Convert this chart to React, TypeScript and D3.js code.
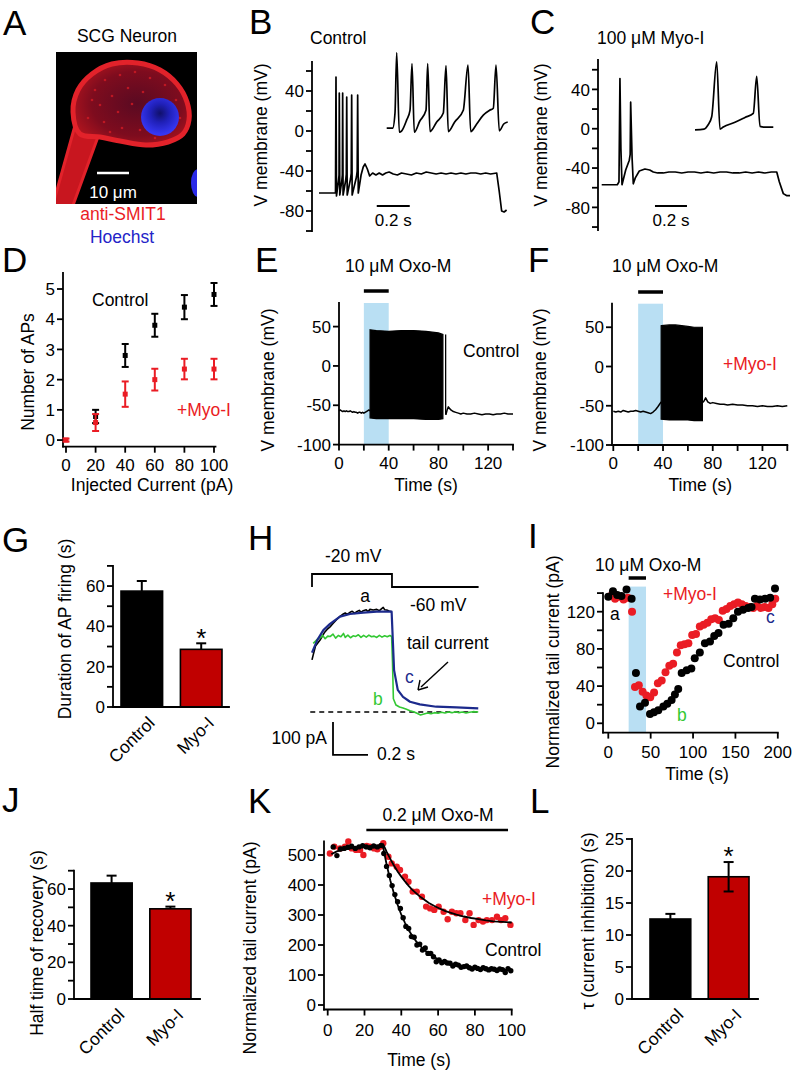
import React from "react";
import * as d3 from "d3";

const FONT = '"Liberation Sans", Arial, Helvetica, sans-serif';
const RED = "#ea1c24";
const BARRED = "#c00000";
const SHADE = "#b9dff3";
const NAVY = "#1c2a8c";
const GREEN = "#33c833";
const HOECHST = "#2424c8";

/* ---------------- Panel B (control firing) ---------------- */
const bTime = [0, 0.1, 0.103, 0.106, 0.118, 0.1215, 0.123, 0.126, 0.138, 0.1415, 0.1434, 0.146, 0.162, 0.1655, 0.168, 0.171, 0.191, 0.1955, 0.198, 0.201, 0.227, 0.2315, 0.2343, 0.238, 0.255, 0.268, 0.279, 0.293, 0.307, 0.325, 0.345, 0.365, 0.385, 0.405, 0.425, 0.45, 0.475, 0.5, 0.53, 0.56, 0.59, 0.62, 0.65, 0.68, 0.71, 0.74, 0.77, 0.8, 0.83, 0.86, 0.89, 0.92, 0.95, 0.98, 1.01, 1.04, 1.077, 1.092, 1.107, 1.122, 1.137];
const bVm = [-62, -62, 54, -65, -50, -44, 38, -64, -50, -44, 38, -64, -49, -43, 34, -64, -48, -42, 36, -64, -46, -40, 36, -62, -44, -36, -33, -38, -45, -42, -44, -42, -44, -42, -41, -43, -44, -42, -43, -44, -42, -43, -41, -42, -43, -42, -43, -42, -43, -42, -43, -42, -42, -43, -42, -43, -42, -60, -80, -81, -79];
const bInsetT = [0, 6, 8.3, 10, 12.6, 15, 20, 23.3, 25.3, 27.6, 33, 39.3, 41, 43.3, 50, 56.6, 59.3, 61.6, 68, 76.6, 81.3, 84, 90, 96.6, 103, 106.6, 109.3, 112.6, 117, 121];
const bInsetV = [-58, -58, -36, 52, -64, -62, -46, -32, 36, -64, -48, -32, 36, -63, -49, -36, 33, -63, -49, -32, 34, -63, -52, -39, -32, -29, 34, -62, -52, -49];
const bScaleBarT = [0.35, 0.55];

/* ---------------- Panel C (Myo-I firing) ---------------- */
const cTime = [0, 0.0975, 0.108, 0.114, 0.12, 0.127, 0.15, 0.1725, 0.178, 0.181, 0.19, 0.1975, 0.21, 0.235, 0.27, 0.3, 0.3225, 0.35, 0.385, 0.42, 0.46, 0.5, 0.54, 0.58, 0.62, 0.66, 0.7, 0.74, 0.78, 0.82, 0.86, 0.9, 0.94, 0.98, 1.02, 1.06, 1.094, 1.11, 1.135, 1.155, 1.177];
const cVm = [-57, -57, -54, 51, -20, -57, -42, -32, -26, 27, -30, -56, -50, -43, -41, -42, -44, -45, -45, -44, -44, -45, -44, -44, -45, -44, -45, -44, -44, -45, -45, -44, -45, -44, -45, -44, -44, -54, -66, -68, -68];
const cInsetT = [0, 9, 13, 16.7, 21.7, 25, 28.3, 40, 50, 58.3, 61.7, 65, 70, 78.3];
const cInsetV = [-59, -58, -52, -40, 40, -58, -55, -48, -41, -35, 19, -54, -55, -55];
const cScaleBarT = [0.333, 0.533];

const vmTicks = [-100, -80, -60, -40, -20, 0, 20, 40, 60];
const vmLabels = [-80, -40, 0, 40];

/* ---------------- Panel D ---------------- */
const dCurrent = [0, 20, 40, 60, 80, 100];
const dCtrlMean = [0, 0.78, 2.8, 3.8, 4.4, 4.82];
const dCtrlErr = [0.05, 0.22, 0.38, 0.38, 0.4, 0.38];
const dMyoMean = [0, 0.58, 1.52, 2.0, 2.35, 2.35];
const dMyoErr = [0.05, 0.28, 0.42, 0.36, 0.34, 0.34];
const dYTicks = [0, 1, 2, 3, 4, 5];

/* ---------------- Panel E ---------------- */
const ePreT = [0, 1, 2, 3, 4, 5, 6, 7, 8, 9, 10, 11, 12, 13, 14, 15, 16, 17, 18, 19, 20, 21, 22, 23, 24, 25];
const ePreV = [-57, -56, -57, -58, -57, -58, -57, -58, -58, -57, -58, -59, -58, -59, -59, -60, -59, -59, -60, -59, -60, -59, -58, -57, -56, -57];
const eBurstT = [25, 30, 40, 50, 60, 70, 80, 83.6];
const eBurstTop = [46, 45, 44, 45, 45, 44, 42, 40];
const eBurstBottom = [-66, -67, -67, -67, -67, -68, -68, -67];
const eLateSpikes = [85.8];
const ePostT = [86, 87, 88, 89, 90, 92, 94, 96, 98, 100, 103, 106, 109, 112, 115, 118, 121, 124, 127, 130, 133, 136, 140];
const ePostV = [-62, -56, -52, -54, -56, -58, -59, -60, -61, -60, -61, -61, -60, -61, -62, -61, -61, -62, -61, -61, -60, -61, -61];

/* ---------------- Panel F ---------------- */
const fPreT = [0, 2, 4, 6, 8, 10, 12, 14, 16, 18, 20, 22, 24, 26, 28, 30, 32, 34, 36, 38.5];
const fPreV = [-57, -58, -57, -58, -56, -57, -58, -57, -57, -56, -57, -58, -57, -58, -59, -60, -58, -55, -51, -45];
const fBurstT = [38.5, 45, 50, 55, 60, 65, 71.7];
const fBurstTop = [52, 53, 53, 52, 51, 50, 50];
const fBurstBottom = [-67, -68, -68, -68, -68, -69, -69];
const fPostT = [71.7, 73, 74.3, 76, 78, 80, 83, 86, 89, 92, 96, 100, 104, 108, 112, 116, 120, 124, 128, 132, 136, 140];
const fPostV = [-46, -44, -40, -45, -47, -46, -47, -48, -48, -49, -48, -49, -49, -50, -50, -51, -50, -51, -51, -50, -51, -50];

const efYTicks = [-100, -50, 0, 50];
const efXTicks = [0, 20, 40, 60, 80, 100, 120, 140];
const efXLabels = [0, 40, 80, 120];
const oxoWindow = [20, 40];

/* ---------------- Bar panels G, J, L ---------------- */
const barCats = ["Control", "Myo-I"];
const gMean = [57.5, 28.6];
const gErr = [5, 3];
const jMean = [63.3, 49.2];
const jErr = [4, 1.2];
const lMean = [12.5, 19.1];
const lErr = [0.8, 2.3];
const gjTicks = [0, 10, 20, 30, 40, 50, 60, 70];
const gjLabels = [0, 20, 40, 60];
const lTicks = [0, 5, 10, 15, 20, 25];

/* ---------------- Panel H ---------------- */
const hStepT = [0, 0, 0.457, 0.457, 0.952];
const hStepV = [-60, -20, -20, -60, -60];
const hAT = [0, 0.007, 0.02, 0.046, 0.07, 0.09, 0.103, 0.12, 0.14, 0.16, 0.179, 0.19, 0.2, 0.217, 0.23, 0.245, 0.255, 0.27, 0.28, 0.293, 0.31, 0.32, 0.331, 0.35, 0.37, 0.385, 0.4, 0.407, 0.415, 0.427, 0.44, 0.455];
const hAI = [158, 173, 200, 218, 240, 252, 258, 268, 280, 290, 297, 300, 296, 302, 305, 299, 304, 308, 302, 307, 310, 304, 311, 309, 311, 307, 314, 317, 310, 309, 306, 304];
const hCT = [0, 0.03, 0.065, 0.103, 0.16, 0.217, 0.293, 0.37, 0.455, 0.461, 0.469, 0.49, 0.52, 0.56, 0.616, 0.71, 0.826, 0.95];
const hCI = [180, 218, 248, 267, 289, 297, 301, 304, 304, 228, 127, 67, 46, 31, 23, 16, 14, 11];
const hBT = [0.007, 0.036, 0.05, 0.06, 0.075, 0.09, 0.105, 0.12, 0.135, 0.15, 0.165, 0.18, 0.19, 0.205, 0.22, 0.235, 0.25, 0.265, 0.28, 0.295, 0.31, 0.325, 0.34, 0.355, 0.37, 0.385, 0.4, 0.415, 0.43, 0.445, 0.455, 0.46, 0.465, 0.48, 0.5, 0.52, 0.54, 0.56, 0.58, 0.6, 0.62, 0.64, 0.66, 0.68, 0.7, 0.72, 0.74, 0.76, 0.78, 0.8, 0.82, 0.84, 0.86, 0.88, 0.9, 0.92, 0.95];
const hBI = [208, 223, 226, 233, 222, 230, 229, 236, 224, 232, 228, 238, 226, 233, 225, 231, 229, 234, 226, 232, 227, 233, 228, 230, 226, 232, 227, 231, 228, 232, 229, 150, 40, 21, 15, 12, 8, 4, 1, -4, -9, -6, -3, -5, -2, -4, -1, -3, 0, -2, 1, -2, 0, -3, -1, 1, 0];

/* ---------------- Panel I ---------------- */
const iCtrlT = [0, 5.5, 10.5, 15.5, 21.5, 27.5, 32.6, 37.4, 43.3, 49.2, 53.9, 59, 65, 69.6, 74.7, 78.6, 82.5, 86.6, 92.5, 98, 102, 108, 114, 120, 125, 130, 136, 142, 147.5, 153, 159, 165, 169, 173, 179, 185, 191, 196.7];
const iCtrlV = [136, 142, 138, 137, 144, 134, 54, 18, 22, 10, 12, 14, 18, 21, 25, 31, 37, 54, 57, 59, 70, 76, 86, 88, 94, 97, 106, 107, 113, 120, 122, 124, 125, 134, 133, 134, 135, 145];
const iMyoT = [3, 8, 13, 18, 23, 28, 31.5, 36, 40.5, 45, 49.5, 54, 58.5, 63, 67.5, 72, 76.5, 81, 85.5, 90, 94.5, 99, 103.5, 108, 112.5, 117, 121.5, 126, 130.5, 135, 139.5, 144, 148.5, 153, 157.5, 162, 166.5, 171, 175.5, 180, 184.5, 189, 193.5, 197];
const iMyoV = [137, 134, 136, 133, 135, 120, 39, 41, 34, 30, 28, 33, 43, 46, 55, 62, 64, 76, 84, 85, 86, 95, 96, 104, 106, 108, 112, 113, 111, 121, 123, 126, 128, 130, 128, 126, 125, 124, 126, 124, 125, 124, 128, 134];
const iYTicks = [0, 20, 40, 60, 80, 100, 120, 140];
const iYLabels = [0, 40, 80, 120];
const iXTicks = [0, 50, 100, 150, 200];
const iOxo = [24, 44.5];

/* ---------------- Panel K ---------------- */
const kCtrlT = [3, 5, 7, 9, 11, 13, 15, 17, 19, 21, 23, 25, 27, 29, 30.5, 32, 33.5, 35, 36.5, 38, 39.5, 41, 42.5, 44, 45.5, 47, 48.5, 50, 51.5, 53, 54.5, 56, 57.5, 59, 60.5, 62, 63.5, 65, 66.5, 68, 69.5, 71, 72.5, 74, 75.5, 77, 78.5, 80, 81.5, 83, 84.5, 86, 87.5, 89, 90.5, 92, 93.5, 95, 96.5, 98, 99.5];
const kCtrlV = [527, 498, 520, 522, 526, 529, 522, 527, 531, 527, 524, 530, 527, 532, 505, 462, 432, 398, 368, 344, 322, 291, 262, 255, 228, 226, 200, 203, 183, 190, 172, 172, 161, 144, 150, 141, 145, 140, 139, 130, 136, 133, 126, 128, 130, 124, 120, 126, 122, 118, 124, 121, 117, 121, 119, 115, 120, 118, 108, 121, 114];
const kMyoT = [1.2, 3.6, 6.7, 9.4, 11.2, 13.1, 15.4, 17.6, 19.4, 21.2, 23, 25.2, 27, 28.8, 30.2, 33, 34.8, 37.5, 39.3, 42, 43.9, 46.2, 48.4, 51.2, 53.5, 55.7, 57.9, 60.3, 63, 65.2, 67.5, 69.9, 72.1, 74.8, 77.1, 79.3, 82, 84.4, 86.5, 89.3, 92, 94.2, 96.5, 99.3];
const kMyoV = [505, 528, 522, 528, 545, 522, 517, 517, 500, 530, 528, 522, 519, 528, 539, 494, 472, 461, 450, 428, 411, 378, 378, 361, 328, 322, 317, 328, 311, 286, 311, 306, 306, 283, 306, 267, 283, 278, 283, 283, 294, 283, 289, 267];
const kFitCtrlT = [2, 5, 10, 15, 20, 25, 30, 32, 34, 36, 38, 40, 42, 44, 46, 48, 50, 52, 54, 56, 58, 60, 62, 64, 66, 68, 70, 72, 74, 76, 78, 80, 85, 90, 95, 100];
const kFitCtrlV = [503, 512, 520, 524, 526, 528, 530, 469, 416, 372, 334, 301, 274, 250, 230, 213, 199, 186, 176, 167, 159, 153, 147, 142, 138, 135, 132, 129, 127, 125, 124, 123, 120, 118, 117, 117];
const kFitMyoT = [30, 32, 34, 36, 38, 40, 42, 44, 46, 48, 50, 52, 55, 58, 61, 64, 67, 70, 74, 78, 82, 86, 90, 95, 100];
const kFitMyoV = [538, 511, 487, 465, 445, 428, 412, 397, 384, 373, 362, 353, 340, 330, 321, 313, 307, 301, 295, 290, 286, 282, 279, 277, 275];
const kYTicks = [0, 100, 200, 300, 400, 500];
const kXTicks = [0, 20, 40, 60, 80, 100];
const kOxo = [21, 98];

/* ---------------- helpers ---------------- */
const path = (xs: number[], ys: number[], sx: any, sy: any, curve?: any) => {
  const g = d3.line<number>().x((_, i) => sx(xs[i])).y((_, i) => sy(ys[i]));
  if (curve) g.curve(curve);
  return g(xs) || "";
};

const SW = 1.8;

function YAxis(p: { s: any; x: number; ticks: number[]; labels: number[]; lo: number; hi: number; fs?: number; tl?: number }) {
  const fs = p.fs ?? 17;
  const tl = p.tl ?? 6;
  return (
    <g>
      <line x1={p.x} x2={p.x} y1={p.s(p.lo)} y2={p.s(p.hi)} stroke="#000" strokeWidth={SW} strokeLinecap="square" />
      {p.ticks.map((t) => (
        <line key={"yt" + t} x1={p.x - tl} x2={p.x} y1={p.s(t)} y2={p.s(t)} stroke="#000" strokeWidth={SW} />
      ))}
      {p.labels.map((t) => (
        <text key={"yl" + t} x={p.x - tl - 2} y={p.s(t)} dy="0.36em" textAnchor="end" fontSize={fs}>
          {t}
        </text>
      ))}
    </g>
  );
}

function XAxis(p: { s: any; y: number; ticks: number[]; labels: number[]; lo: number; hi: number; fs?: number; tl?: number; ld?: number }) {
  const fs = p.fs ?? 17;
  const tl = p.tl ?? 6;
  const ld = p.ld ?? 24;
  return (
    <g>
      <line x1={p.s(p.lo)} x2={p.s(p.hi)} y1={p.y} y2={p.y} stroke="#000" strokeWidth={SW} strokeLinecap="square" />
      {p.ticks.map((t) => (
        <line key={"xt" + t} x1={p.s(t)} x2={p.s(t)} y1={p.y} y2={p.y + tl} stroke="#000" strokeWidth={SW} />
      ))}
      {p.labels.map((t) => (
        <text key={"xl" + t} x={p.s(t)} y={p.y + ld} textAnchor="middle" fontSize={fs}>
          {t}
        </text>
      ))}
    </g>
  );
}

const PanelLetter = ({ x, y, c }: { x: number; y: number; c: string }) => (
  <text x={x} y={y} fontSize={35}>
    {c}
  </text>
);

const YTitle = ({ x, y, t, fs = 17.5 }: { x: number; y: number; t: string; fs?: number }) => (
  <text transform={`translate(${x},${y}) rotate(-90)`} textAnchor="middle" fontSize={fs}>
    {t}
  </text>
);

/* ---------------- Panels ---------------- */
function PanelA() {
  const bodyPts: [number, number][] = [
    [80, 134], [73, 112], [78, 90], [92, 74], [112, 64], [138, 63], [160, 70], [177, 84], [187, 102], [189, 120], [183, 134], [168, 142], [146, 145], [120, 141], [100, 137],
  ];
  const body = d3.line().curve(d3.curveCatmullRomClosed)(bodyPts) || "";
  const neurite = "M76,122 L99,134 L72,208 L52,208 Z";
  const speckles: [number, number][] = [
    [95, 90], [105, 80], [120, 75], [135, 72], [150, 78], [165, 85], [100, 105], [112, 96], [128, 88], [143, 92], [88, 118], [104, 122], [118, 112], [132, 104], [122, 128], [140, 130], [155, 138], [170, 132], [176, 100], [92, 100], [110, 132], [145, 110], [180, 118],
  ];
  return (
    <g>
      <PanelLetter x={3} y={35} c="A" />
      <text x={127} y={42} textAnchor="middle" fontSize={17.5}>SCG Neuron</text>
      <defs>
        <clipPath id="clipA">
          <rect x={56} y={52} width={141} height={152} />
        </clipPath>
        <radialGradient id="cellFill" cx="0.55" cy="0.5" r="0.6">
          <stop offset="0" stopColor="#5a0a22" />
          <stop offset="0.65" stopColor="#7e0c1e" />
          <stop offset="1" stopColor="#b0141e" />
        </radialGradient>
        <radialGradient id="nucFill" cx="0.5" cy="0.4" r="0.55">
          <stop offset="0" stopColor="#10106a" />
          <stop offset="0.45" stopColor="#2020b8" />
          <stop offset="1" stopColor="#3636f2" />
        </radialGradient>
      </defs>
      <rect x={56} y={52} width={141} height={152} fill="#000" />
      <g clipPath="url(#clipA)">
        <path d={neurite} fill="#c8161f" stroke="#e2222a" strokeWidth={3} strokeLinejoin="round" />
        <path d={body} fill="url(#cellFill)" stroke="#e2222a" strokeWidth={5} strokeLinejoin="round" />
        {speckles.map(([x, y], i) => (
          <circle key={"sp" + i} cx={x} cy={y} r={1.3} fill="#d01a24" opacity={0.8} />
        ))}
        <circle cx={160} cy={117} r={19} fill="url(#nucFill)" />
        <ellipse cx={198} cy={183} rx={7} ry={14} fill="#2a2ae8" />
      </g>
      <line x1={97} x2={129} y1={173} y2={173} stroke="#fff" strokeWidth={2.5} />
      <text x={113} y={198} fill="#fff" textAnchor="middle" fontSize={17}>10 μm</text>
      <text x={123} y={220} fill={RED} textAnchor="middle" fontSize={17.5}>anti-SMIT1</text>
      <text x={122} y={243} fill={HOECHST} textAnchor="middle" fontSize={17.5}>Hoechst</text>
    </g>
  );
}

function PanelB() {
  const sx = d3.scaleLinear().domain([0, 1]).range([319, 484]);
  const sy = d3.scaleLinear().domain([-100, 70]).range([231, 61]);
  const ix = d3.scaleLinear().domain([0, 121]).range([386.7, 507.7]);
  const iy = d3.scaleLinear().domain([-60, 50]).range([129.5, 54]);
  return (
    <g>
      <PanelLetter x={249} y={34} c="B" />
      <text x={310} y={44} fontSize={17.5}>Control</text>
      <YTitle x={267} y={135} t="V membrane (mV)" />
      <YAxis s={sy} x={312} ticks={vmTicks} labels={vmLabels} lo={-100} hi={69} fs={17} />
      <path d={path(bTime, bVm, sx, sy)} fill="none" stroke="#000" strokeWidth={1.7} strokeLinejoin="round" />
      <path d={path(bInsetT, bInsetV, ix, iy, d3.curveMonotoneX)} fill="none" stroke="#000" strokeWidth={1.7} strokeLinejoin="round" />
      <line x1={sx(bScaleBarT[0])} x2={sx(bScaleBarT[1])} y1={206} y2={206} stroke="#000" strokeWidth={2} />
      <text x={sx((bScaleBarT[0] + bScaleBarT[1]) / 2)} y={226} textAnchor="middle" fontSize={17}>0.2 s</text>
    </g>
  );
}

function PanelC() {
  const sx = d3.scaleLinear().domain([0, 1]).range([601.7, 761.7]);
  const sy = d3.scaleLinear().domain([-103, 70]).range([230, 59.9]);
  const ix = d3.scaleLinear().domain([0, 78.3]).range([695, 773.3]);
  const iy = d3.scaleLinear().domain([-60, 50]).range([130.5, 55]);
  return (
    <g>
      <PanelLetter x={530} y={34} c="C" />
      <text x={597} y={44} fontSize={17.5}>100 μM Myo-I</text>
      <YTitle x={547} y={135} t="V membrane (mV)" />
      <YAxis s={sy} x={598} ticks={vmTicks} labels={vmLabels} lo={-103} hi={70} fs={17} />
      <path d={path(cTime, cVm, sx, sy)} fill="none" stroke="#000" strokeWidth={1.7} strokeLinejoin="round" />
      <path d={path(cInsetT, cInsetV, ix, iy, d3.curveMonotoneX)} fill="none" stroke="#000" strokeWidth={1.7} strokeLinejoin="round" />
      <line x1={sx(cScaleBarT[0])} x2={sx(cScaleBarT[1])} y1={206} y2={206} stroke="#000" strokeWidth={2} />
      <text x={sx((cScaleBarT[0] + cScaleBarT[1]) / 2)} y={226} textAnchor="middle" fontSize={17}>0.2 s</text>
    </g>
  );
}

function PanelD() {
  const sx = d3.scaleLinear().domain([0, 100]).range([66, 214]);
  const sy = d3.scaleLinear().domain([-0.22, 5.53]).range([446.7, 273]);
  const series = [
    { m: dCtrlMean, e: dCtrlErr, c: "#000" },
    { m: dMyoMean, e: dMyoErr, c: RED },
  ];
  return (
    <g>
      <PanelLetter x={2} y={272} c="D" />
      <YTitle x={34} y={372} t="Number of APs" />
      <YAxis s={sy} x={63} ticks={dYTicks} labels={dYTicks} lo={-0.22} hi={5.53} />
      <XAxis s={sx} y={446.7} ticks={dCurrent} labels={dCurrent} lo={-2} hi={101} />
      <text x={152} y={491} textAnchor="middle" fontSize={17.5}>Injected Current (pA)</text>
      {series.map((sr, k) =>
        dCurrent.map((c, i) => {
          if (k === 0 && i === 0) return null;
          const x = sx(c);
          const y = sy(sr.m[i]);
          const y1 = sy(sr.m[i] + sr.e[i]);
          const y2 = sy(sr.m[i] - sr.e[i]);
          return (
            <g key={"d" + k + i}>
              <line x1={x} x2={x} y1={y1} y2={y2} stroke={sr.c} strokeWidth={2} />
              <line x1={x - 3.5} x2={x + 3.5} y1={y1} y2={y1} stroke={sr.c} strokeWidth={2} />
              <line x1={x - 3.5} x2={x + 3.5} y1={y2} y2={y2} stroke={sr.c} strokeWidth={2} />
              <rect x={x - 2.5} y={y - 2.5} width={5} height={5} fill={sr.c} />
            </g>
          );
        })
      )}
      <text x={92} y={306} fontSize={17.5}>Control</text>
      <text x={177} y={416} fontSize={17.5} fill={RED}>+Myo-I</text>
    </g>
  );
}

function OxoTrace(p: {
  x0: number; yAxisX: number; sy: any; letter: string; letterX: number;
  preT: number[]; preV: number[]; bT: number[]; bTop: number[]; bBot: number[]; late: number[];
  postT: number[]; postV: number[]; label: string; labelColor: string; labelX: number; labelY: number; titleX: number; barY: number; ytX: number;
}) {
  const sx = d3.scaleLinear().domain([0, 140]).range([p.x0, p.x0 + 174]);
  const sy = p.sy;
  const area = d3
    .area<number>()
    .x((_, i) => sx(p.bT[i]))
    .y0((_, i) => sy(p.bBot[i]))
    .y1((_, i) => sy(p.bTop[i]))(p.bT) || "";
  return (
    <g>
      <PanelLetter x={p.letterX} y={272} c={p.letter} />
      <rect x={sx(oxoWindow[0])} y={sy(80)} width={sx(oxoWindow[1]) - sx(oxoWindow[0])} height={sy(-100) - sy(80)} fill={SHADE} />
      <line x1={sx(oxoWindow[0])} x2={sx(oxoWindow[1])} y1={p.barY} y2={p.barY} stroke="#000" strokeWidth={3.5} />
      <text x={p.titleX} y={272} fontSize={17.5}>10 μM Oxo-M</text>
      <YTitle x={p.ytX} y={380} t="V membrane (mV)" />
      <YAxis s={sy} x={p.yAxisX} ticks={efYTicks} labels={efYTicks} lo={-100} hi={80} />
      <XAxis s={sx} y={sy(-100)} ticks={efXTicks} labels={efXLabels} lo={0} hi={140} />
      <text x={sx(70)} y={491} textAnchor="middle" fontSize={17.5}>Time (s)</text>
      <path d={path(p.preT, p.preV, sx, sy)} fill="none" stroke="#000" strokeWidth={1.5} strokeLinejoin="round" />
      <path d={area} fill="#000" stroke="#000" strokeWidth={1.2} />
      {p.late.map((t) => (
        <line key={"ls" + t} x1={sx(t)} x2={sx(t)} y1={sy(-62)} y2={sy(40)} stroke="#000" strokeWidth={1.3} />
      ))}
      <path d={path(p.postT, p.postV, sx, sy)} fill="none" stroke="#000" strokeWidth={1.5} strokeLinejoin="round" />
      <text x={p.labelX} y={p.labelY} fontSize={17.5} fill={p.labelColor}>{p.label}</text>
    </g>
  );
}

function BarChart(p: {
  letter?: string; letterX?: number; letterY?: number; lo: number; hi: number; axisLeft: number; axisRight: number; sy: any;
  means: number[]; errs: number[]; bothErr: boolean[]; ticks: number[]; labels: number[];
  yTitle: string; ytX: number; ytY: number; topVal: number;
}) {
  const sx = d3.scaleBand<string>().domain(barCats).range([p.lo, p.hi]).paddingInner(0.3).paddingOuter(0);
  const bw = sx.bandwidth();
  const y0 = p.sy(0);
  return (
    <g>
      {p.letter ? <PanelLetter x={p.letterX ?? 2} y={p.letterY ?? 0} c={p.letter} /> : null}
      <YTitle x={p.ytX} y={p.ytY} t={p.yTitle} />
      {barCats.map((c, i) => {
        const x = sx(c)!;
        const cx = x + bw / 2;
        const top = p.sy(p.means[i]);
        const et = p.sy(p.means[i] + p.errs[i]);
        const eb = p.sy(p.means[i] - p.errs[i]);
        const both = p.bothErr[i];
        return (
          <g key={c}>
            <line x1={cx} x2={cx} y1={et} y2={top} stroke="#000" strokeWidth={2} />
            <line x1={cx - 5} x2={cx + 5} y1={et} y2={et} stroke="#000" strokeWidth={2} />
            <rect x={x} y={top} width={bw} height={y0 - top} fill={i === 0 ? "#000" : BARRED} stroke="#000" strokeWidth={1.6} />
            {both ? <line x1={cx} x2={cx} y1={top} y2={eb} stroke="#000" strokeWidth={2} /> : null}
            {both ? <line x1={cx - 5} x2={cx + 5} y1={eb} y2={eb} stroke="#000" strokeWidth={2} /> : null}
            {i === 1 ? (
              <text x={cx} y={et - 11} dy="0.55em" textAnchor="middle" fontSize={26}>*</text>
            ) : null}
            <text transform={`translate(${cx + 14},${y0 + 17}) rotate(-45)`} textAnchor="end" fontSize={17.5}>
              {c}
            </text>
          </g>
        );
      })}
      <YAxis s={p.sy} x={p.axisLeft} ticks={p.ticks} labels={p.labels} lo={0} hi={p.topVal} />
      <line x1={p.axisLeft} x2={p.axisRight} y1={y0} y2={y0} stroke="#000" strokeWidth={SW} strokeLinecap="square" />
    </g>
  );
}

function PanelH() {
  const sx = d3.scaleLinear().domain([0, 1]).range([312, 487]);
  const sv = d3.scaleLinear().domain([-60, -20]).range([587, 574]);
  const si = d3.scaleLinear().domain([0, 100]).range([712, 679]);
  return (
    <g>
      <PanelLetter x={248} y={550} c="H" />
      <text x={325} y={562} fontSize={17.5}>-20 mV</text>
      <path d={path(hStepT, hStepV, sx, sv)} fill="none" stroke="#000" strokeWidth={1.8} />
      <text x={410} y={611} fontSize={17.5}>-60 mV</text>
      <line x1={sx(-0.01)} x2={sx(0.952)} y1={si(0)} y2={si(0)} stroke="#000" strokeWidth={1.5} strokeDasharray="5,4" />
      <path d={path(hAT, hAI, sx, si)} fill="none" stroke="#000" strokeWidth={1.6} strokeLinejoin="round" />
      <path d={path(hBT, hBI, sx, si)} fill="none" stroke={GREEN} strokeWidth={1.6} strokeLinejoin="round" />
      <path d={path(hCT, hCI, sx, si)} fill="none" stroke={NAVY} strokeWidth={2.2} strokeLinejoin="round" />
      <text x={365} y={602} textAnchor="middle" fontSize={17.5}>a</text>
      <text x={407} y={649} fontSize={17.5}>tail current</text>
      <line x1={448} x2={421} y1={662} y2={687} stroke="#000" strokeWidth={1.4} />
      <path d="M418,690 L420,680 M418,690 L428,687" fill="none" stroke="#000" strokeWidth={1.4} />
      <text x={405} y={683} fontSize={17.5} fill={NAVY}>c</text>
      <text x={373} y={705} fontSize={17.5} fill={GREEN}>b</text>
      <path d={`M${sx(0.12)},${si(-30)} L${sx(0.12)},${si(-130)} L${sx(0.32)},${si(-130)}`} fill="none" stroke="#000" strokeWidth={1.8} />
      <text x={327} y={744} textAnchor="end" fontSize={17.5}>100 pA</text>
      <text x={377} y={760} fontSize={17.5}>0.2 s</text>
    </g>
  );
}

function PanelI() {
  const sx = d3.scaleLinear().domain([0, 200]).range([608.3, 777.8]);
  const sy = d3.scaleLinear().domain([-10, 140]).range([732.6, 593.1]);
  return (
    <g>
      <PanelLetter x={528} y={548} c="I" />
      <rect x={sx(iOxo[0])} y={sy(147)} width={sx(iOxo[1]) - sx(iOxo[0])} height={sy(-10) - sy(147)} fill={SHADE} />
      <line x1={sx(iOxo[0])} x2={sx(iOxo[1])} y1={578} y2={578} stroke="#000" strokeWidth={3.5} />
      <text x={595} y={571} fontSize={17.5}>10 μM Oxo-M</text>
      <YTitle x={559} y={662} t="Normalized tail current (pA)" />
      <YAxis s={sy} x={603} ticks={iYTicks} labels={iYLabels} lo={-10} hi={140} />
      <XAxis s={sx} y={732.6} ticks={iXTicks} labels={iXTicks} lo={-6} hi={200} ld={25} />
      <text x={697} y={780} textAnchor="middle" fontSize={17.5}>Time (s)</text>
      {iMyoT.map((t, i) => (
        <circle key={"im" + i} cx={sx(t)} cy={sy(iMyoV[i])} r={4} fill={RED} />
      ))}
      {iCtrlT.map((t, i) => (
        <circle key={"ic" + i} cx={sx(t)} cy={sy(iCtrlV[i])} r={4} fill="#000" />
      ))}
      <text x={610} y={620} fontSize={17.5}>a</text>
      <text x={663} y={600} fontSize={17.5} fill={RED}>+Myo-I</text>
      <text x={766} y={623} fontSize={17.5} fill={NAVY}>c</text>
      <text x={723} y={667} fontSize={17.5}>Control</text>
      <text x={677} y={721} fontSize={17.5} fill={GREEN}>b</text>
    </g>
  );
}

function PanelK() {
  const sx = d3.scaleLinear().domain([0, 100]).range([327.7, 511.7]);
  const sy = d3.scaleLinear().domain([-15, 545]).range([1009.5, 841.5]);
  return (
    <g>
      <PanelLetter x={248} y={813} c="K" />
      <line x1={sx(kOxo[0])} x2={sx(kOxo[1])} y1={830} y2={830} stroke="#000" strokeWidth={2.5} />
      <text x={438} y={821} textAnchor="middle" fontSize={17.5}>0.2 μM Oxo-M</text>
      <YTitle x={256} y={948} t="Normalized tail current (pA)" />
      <YAxis s={sy} x={324} ticks={kYTicks} labels={kYTicks} lo={-15} hi={545} />
      <XAxis s={sx} y={1009.5} ticks={kXTicks} labels={kXTicks} lo={-2} hi={100} ld={26} />
      <text x={419} y={1066} textAnchor="middle" fontSize={17.5}>Time (s)</text>
      {kMyoT.map((t, i) => (
        <circle key={"km" + i} cx={sx(t)} cy={sy(kMyoV[i])} r={3.2} fill={RED} />
      ))}
      {kCtrlT.map((t, i) => (
        <circle key={"kc" + i} cx={sx(t)} cy={sy(kCtrlV[i])} r={2.7} fill="#000" />
      ))}
      <path d={path(kFitCtrlT, kFitCtrlV, sx, sy)} fill="none" stroke="#000" strokeWidth={1.8} />
      <path d={path(kFitMyoT, kFitMyoV, sx, sy)} fill="none" stroke="#000" strokeWidth={1.8} />
      <text x={482} y={905} fontSize={17.5} fill={RED}>+Myo-I</text>
      <text x={485} y={956} fontSize={17.5}>Control</text>
    </g>
  );
}

export default function App() {
  const eY = d3.scaleLinear().domain([-100, 80]).range([444.6, 303]);
  const fY = d3.scaleLinear().domain([-100, 80]).range([445, 303.7]);
  const gY = d3.scaleLinear().domain([0, 70]).range([707, 565.9]);
  const jY = d3.scaleLinear().domain([0, 70]).range([999, 870.7]);
  const lY = d3.scaleLinear().domain([0, 25]).range([999, 839]);
  return (
    <div style={{ position: "absolute", left: 0, top: 0 }}>
      <svg width={793} height={1073} viewBox="0 0 793 1073" style={{ display: "block", background: "#fff" }} fontFamily={FONT}>
        <rect x={0} y={0} width={793} height={1073} fill="#fff" />
        <PanelA />
        <PanelB />
        <PanelC />
        <PanelD />
        <OxoTrace
          x0={339} yAxisX={339} sy={eY} letter="E" letterX={255}
          preT={ePreT} preV={ePreV} bT={eBurstT} bTop={eBurstTop} bBot={eBurstBottom} late={eLateSpikes}
          postT={ePostT} postV={ePostV} label="Control" labelColor="#000" labelX={463} labelY={357} titleX={345} barY={291} ytX={274}
        />
        <OxoTrace
          x0={613.3} yAxisX={612} sy={fY} letter="F" letterX={528}
          preT={fPreT} preV={fPreV} bT={fBurstT} bTop={fBurstTop} bBot={fBurstBottom} late={[]}
          postT={fPostT} postV={fPostV} label="+Myo-I" labelColor={RED} labelX={723} labelY={370} titleX={612} barY={292} ytX={546}
        />
        <BarChart
          letter="G" letterY={552} lo={121} hi={222} axisLeft={113} axisRight={229} sy={gY}
          means={gMean} errs={gErr} bothErr={[false, false]} ticks={gjTicks} labels={gjLabels}
          yTitle="Duration of AP firing (s)" ytX={71} ytY={629} topVal={70}
        />
        <PanelH />
        <PanelI />
        <BarChart
          letter="J" letterY={812} lo={91} hi={191} axisLeft={74} axisRight={200} sy={jY}
          means={jMean} errs={jErr} bothErr={[false, false]} ticks={gjTicks} labels={gjLabels}
          yTitle="Half time of recovery (s)" ytX={43} ytY={943} topVal={70}
        />
        <PanelK />
        <BarChart
          letter="L" letterX={530} letterY={813} lo={650} hi={749} axisLeft={632} axisRight={758} sy={lY}
          means={lMean} errs={lErr} bothErr={[false, true]} ticks={lTicks} labels={lTicks}
          yTitle="τ (current inhibition) (s)" ytX={594} ytY={921} topVal={25}
        />
      </svg>
    </div>
  );
}
